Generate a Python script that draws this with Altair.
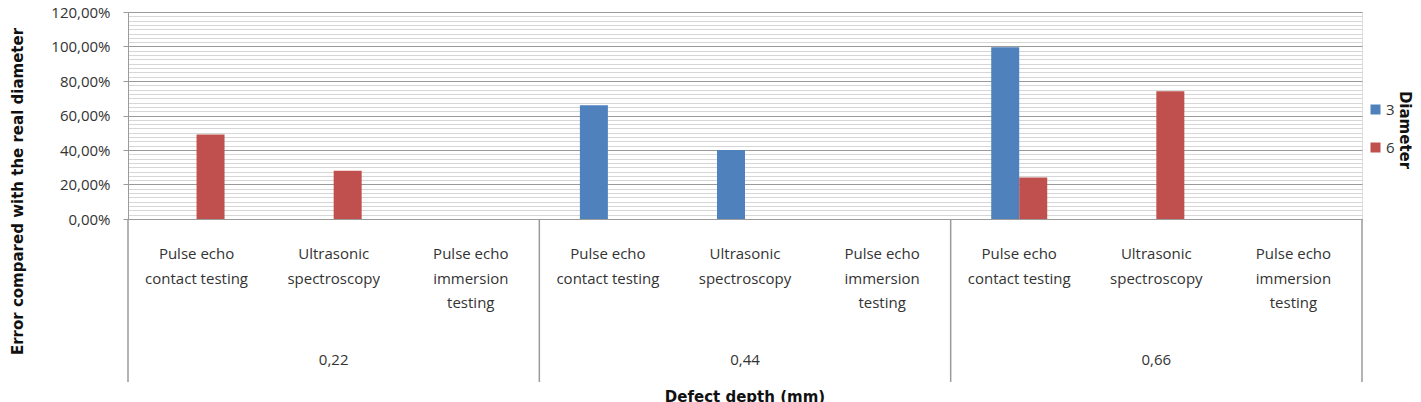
import altair as alt
import pandas as pd

# ---- data ----
depths = ["0,22", "0,44", "0,66"]
methods = ["Pulse echo contact testing", "Ultrasonic spectroscopy", "Pulse echo immersion testing"]
method_lines = ["Pulse echo\ncontact testing", "Ultrasonic\nspectroscopy", "Pulse echo\nimmersion\ntesting"]
series = ["3", "6"]
series_colors = ["#4F81BD", "#C0504D"]
err_d3 = [None, None, None, 0.66, 0.40, None, 0.995, None, None]
err_d6 = [0.49, 0.28, None, None, None, None, 0.24, 0.74, None]
y_major = [0.0, 0.2, 0.4, 0.6, 0.8, 1.0, 1.2]
y_minor_per_major = 8
legend_title = "Diameter"
x_title = "Defect depth (mm)"
y_title = "Error compared with the real diameter"

# ---- tables ----
keys = [f"{d}|{m}" for d in depths for m in methods]
bar_rows = []
for i, k in enumerate(keys):
    for s, vals in zip(series, [err_d3, err_d6]):
        if vals[i] is not None:
            bar_rows.append({"cat": k, "diameter": s, "err": vals[i]})
bars_df = pd.DataFrame(bar_rows)

cat_df = pd.DataFrame({
    "cat": keys,
    "label": [method_lines[i % 3] for i in range(len(keys))],
    "depth": [depths[i // 3] for i in range(len(keys))],
    "pos": [i % 3 for i in range(len(keys))],
})

step = (y_major[1] - y_major[0]) / y_minor_per_major
n_ticks = int(round((y_major[-1] - y_major[0]) / step)) + 1
y_values = [round(y_major[0] + i * step, 4) for i in range(n_ticks)]
is_major = "abs(datum.value*100 - round(datum.value*5)*20) < 0.01"

label_font = "Open Sans"
title_font = "DejaVu Sans"
text_color = "#333333"
major_grid = "#9a9a9a"
minor_grid = "#d6d6d6"

W, H = 1234, 207
cat_w = W / len(keys)
bar_w = 28
x_scale = alt.Scale(domain=keys, paddingInner=0, paddingOuter=0)

bars = alt.Chart(bars_df).mark_bar().encode(
    x=alt.X("cat:N", scale=x_scale, sort=keys,
            axis=alt.Axis(labels=False, ticks=False, grid=True, tickBand="extent",
                          gridColor=major_grid, domainColor=major_grid, title=None)),
    xOffset=alt.XOffset("diameter:N", scale=alt.Scale(
        domain=series, range=[cat_w / 2 - bar_w, cat_w / 2 + bar_w], paddingInner=0, paddingOuter=0)),
    y=alt.Y("err:Q", scale=alt.Scale(domain=[y_major[0], y_major[-1]], nice=False),
            axis=alt.Axis(values=y_values, labelOverlap=False,
                          labelExpr=f"({is_major}) ? replace(format(datum.value, '.2%'), '.', ',') : ''",
                          gridColor={"condition": {"test": is_major, "value": major_grid}, "value": minor_grid},
                          tickOpacity={"condition": {"test": is_major, "value": 1}, "value": 0},
                          tickColor=major_grid, tickSize=5, domainColor=major_grid,
                          labelFont=label_font, labelFontSize=15, labelColor=text_color,
                          labelPadding=13,
                          title=y_title, titleFont=title_font,
                          titleFontSize=15, titleFontWeight="bold", titleColor="#111",
                          titleX=-111, titleY=179, titleAlign="center", titleBaseline="middle")),
    color=alt.Color("diameter:N", scale=alt.Scale(domain=series, range=series_colors),
                    legend=alt.Legend(title=None, orient="none", legendX=1240, legendY=90,
                                      symbolType="square", symbolSize=100, symbolStrokeWidth=0,
                                      labelFont=label_font, labelFontSize=15, labelColor=text_color,
                                      labelOffset=3, rowPadding=22, padding=0)),
)

method_text = alt.Chart(cat_df).mark_text(
    baseline="top", align="center", lineBreak="\n", lineHeight=24.5,
    font=label_font, fontSize=15, color=text_color,
).encode(
    x=alt.X("cat:N", scale=x_scale, axis=None),
    y=alt.value(235),
    text="label:N",
)

depth_text = alt.Chart(cat_df).transform_filter("datum.pos == 1").mark_text(
    baseline="middle", align="center", font=label_font, fontSize=15, color=text_color,
).encode(
    x=alt.X("cat:N", scale=x_scale, axis=None),
    y=alt.value(348),
    text="depth:N",
)

sep_start = alt.Chart(cat_df).transform_filter("datum.pos == 0").mark_rule(
    color=major_grid, strokeWidth=1.5,
).encode(
    x=alt.X("cat:N", scale=x_scale, axis=None, bandPosition=0),
    y=alt.value(H),
    y2=alt.value(370),
)

sep_end = alt.Chart(cat_df).transform_filter(f"datum.cat == '{keys[-1]}'").mark_rule(
    color=major_grid, strokeWidth=1.5,
).encode(
    x=alt.X("cat:N", scale=x_scale, axis=None, bandPosition=1),
    y=alt.value(H),
    y2=alt.value(370),
)

titles_df = pd.DataFrame({"t": [legend_title, x_title]})

legend_title_mark = alt.Chart(titles_df).transform_filter(
    f"datum.t == '{legend_title}'").mark_text(
    angle=90, align="center", baseline="middle", font=title_font, fontSize=15,
    fontWeight="bold", color="#111",
).encode(
    x=alt.value(1405 - 128),
    y=alt.value(130 - 12),
    text="t:N",
)

x_title_mark = alt.Chart(titles_df).transform_filter(
    f"datum.t == '{x_title}'").mark_text(
    align="center", baseline="alphabetic", font=title_font, fontSize=15,
    fontWeight="bold", color="#111",
).encode(
    x=alt.value(W / 2),
    y=alt.value(402 - 12),
    text="t:N",
)

chart = alt.layer(bars, sep_start, sep_end, method_text, depth_text,
                  legend_title_mark, x_title_mark).properties(
    width=W, height=H,
    autosize=alt.AutoSizeParams(type="none"),
    padding={"left": 128, "top": 12, "right": 59, "bottom": 183},
).configure_view(stroke=major_grid).configure(background="white")

chart.save("out.html", embed_options={"renderer": "svg", "actions": False})
